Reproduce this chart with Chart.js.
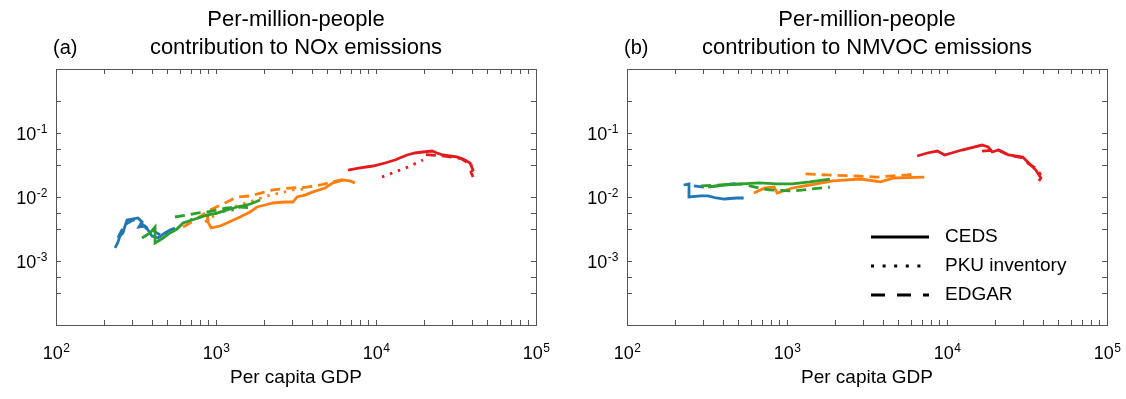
<!DOCTYPE html>
<html>
<head>
<meta charset="utf-8">
<script src="https://cdn.jsdelivr.net/npm/chart.js@4.4.1/dist/chart.umd.min.js"></script>
<style>
  html, body { margin: 0; padding: 0; background: #fff; }
  #wrap { position: relative; width: 1126px; height: 399px; }
  .panel { position: absolute; top: 0; width: 563px; height: 399px; }
</style>
</head>
<body>
<div id="wrap">
  <div class="panel" style="left:0"><canvas id="chartA" width="563" height="399"></canvas></div>
  <div class="panel" style="left:563px"><canvas id="chartB" width="563" height="399"></canvas></div>
</div>
<script>
// axis ticks (log scales)
const xTickValues = [100, 200, 300, 400, 500, 600, 700, 800, 900,
  1000, 2000, 3000, 4000, 5000, 6000, 7000, 8000, 9000,
  10000, 20000, 30000, 40000, 50000, 60000, 70000, 80000, 90000, 100000];
const xMajorTicks = [100, 1000, 10000, 100000];
const xMajorExps = ['2', '3', '4', '5'];          // labels 10^2 .. 10^5
const yTickValues = [1, 0.316, 0.1, 0.0562, 0.0316, 0.01, 0.00562, 0.00316, 0.001, 0.000562, 0.000316, 0.0001];
const yMajorTicks = [0.1, 0.01, 0.001];
const yMajorExps = ['-1', '-2', '-3'];            // labels 10^-1 .. 10^-3

const sourceNames = ['CEDS', 'PKU inventory', 'EDGAR'];

// (a) NOx  -- [per capita GDP, per-million-people contribution]
const noxBlueCeds = [[234,0.0016],[244,0.00198],[251,0.00246],[262,0.00274],[270,0.00352],[278,0.00437],[299,0.00453],[325,0.0047],[345,0.00407],[330,0.0034],[360,0.00352],[376,0.00305],[398,0.00246],[434,0.00229],[480,0.00274],[516,0.00305],[554,0.00328]];
const noxBlueEdgar = [[244,0.00229],[258,0.00305],[274,0.00379],[303,0.00437],[335,0.00407],[365,0.00328],[387,0.00352],[416,0.00284],[460,0.00246],[501,0.00284]];
const noxGreenCeds = [[345,0.00229],[387,0.00274],[416,0.0034],[416,0.00191],[467,0.00229],[516,0.00274],[570,0.00316],[622,0.00393],[740,0.00453],[879,0.00523],[1015,0.00562],[1171,0.00627],[1352,0.00698],[1563,0.0075],[1703,0.00806],[1884,0.00898]];
const noxGreenPku = [[688,0.00437],[794,0.00487],[958,0.00542],[1138,0.00604],[1413,0.0065]];
const noxGreenEdgar = [[554,0.00487],[659,0.00523],[760,0.00562],[879,0.00583],[1015,0.00627],[1171,0.00673],[1413,0.00698],[1703,0.00673]];
const noxOrangeCeds = [[879,0.00523],[891,0.00407],[931,0.00328],[1059,0.00352],[1171,0.00393],[1413,0.00487],[1631,0.00583],[1803,0.00698],[2024,0.0075],[2270,0.00806],[2698,0.00835],[3027,0.00835],[3206,0.01],[3597,0.0107],[4037,0.012],[4799,0.0138],[5385,0.0166],[6218,0.0184],[6879,0.0178],[7390,0.0166]];
const noxOrangePku = [[853,0.00407],[1059,0.00583],[1413,0.0075],[1754,0.00898],[2084,0.0104],[2512,0.01155],[3027,0.0129],[3597,0.0133]];
const noxOrangeEdgar = [[622,0.0034],[740,0.00437],[917,0.00627],[1138,0.00806],[1352,0.01],[1631,0.0104],[2270,0.0129],[2901,0.0138],[3707,0.0143],[4467,0.0154],[5957,0.0184],[6594,0.0191]];
const noxRedCeds = [[6683,0.0264],[7943,0.0284],[9572,0.0305],[11380,0.034],[13140,0.0379],[15630,0.0453],[17520,0.0487],[19660,0.0505],[22390,0.0523],[24050,0.0487],[26220,0.0453],[29000,0.0437],[32060,0.0422],[35970,0.0379],[38680,0.034],[40370,0.0264],[39230,0.0246],[40370,0.0205]];
const noxRedPku = [[10900,0.0205],[13140,0.0246],[15850,0.0294],[19660,0.0379]];
const noxRedEdgar = [[20500,0.046],[26000,0.044],[34000,0.040],[40000,0.031]];

// (b) NMVOC
const vocBlueCeds = [[226,0.0154],[244,0.016],[244,0.012],[244,0.01],[290,0.0104],[321,0.0104],[361,0.00965],[406,0.0093],[484,0.00965],[536,0.00965]];
const vocBlueEdgar = [[262,0.0149],[303,0.0143],[372,0.0149],[450,0.016],[521,0.0166]];
const vocGreenCeds = [[321,0.0143],[361,0.0149],[406,0.0154],[521,0.016],[667,0.0166],[868,0.016],[1080,0.016],[1385,0.0172],[1854,0.0191]];
const vocGreenEdgar = [[290,0.0149],[389,0.0154],[521,0.016],[667,0.0138],[773,0.0129],[1080,0.0124],[1604,0.0138],[1854,0.0143]];
const vocOrangeCeds = [[620,0.01155],[728,0.01383],[830,0.0143],[868,0.01155],[1080,0.01383],[1385,0.0154],[1937,0.0178],[2874,0.0191],[3846,0.0172],[4655,0.0198],[7211,0.0205]];
const vocOrangeEdgar = [[1306,0.0229],[1750,0.0221],[2710,0.0213],[3631,0.0205],[5626,0.0221],[6412,0.0229]];
const vocRedCeds = [[6511,0.0437],[7534,0.0487],[8713,0.0523],[9660,0.0453],[12380,0.0542],[16560,0.0649],[18080,0.0604],[19170,0.0505],[20940,0.0542],[24220,0.0453],[29720,0.0422],[32430,0.034],[35900,0.0264],[38620,0.0198],[37510,0.0178]];
const vocRedEdgar = [[16560,0.052],[20940,0.0542],[24220,0.0453],[29720,0.0407],[32430,0.0328],[35900,0.0284],[38620,0.0221]];

const FONT = '"Liberation Sans", Arial, Helvetica, sans-serif';
Chart.defaults.font.family = FONT;
Chart.defaults.color = '#000';

const colors = { blue: '#1f77b4', orange: '#ff7f0e', green: '#2ca02c', red: '#e41a1c' };
const dashes = { CEDS: [], PKU: [2.5, 6], EDGAR: [10, 6] };

function series(points, color, src) {
  return {
    data: points.map(p => ({ x: p[0], y: p[1] })),
    showLine: true,
    borderColor: color,
    borderWidth: 2.8,
    borderDash: dashes[src],
    pointRadius: 0,
    tension: 0,
    fill: false
  };
}

// ticks point inward: negative tick length
const tickGrid = { display: true, drawOnChartArea: false, drawTicks: true, tickLength: -5, color: '#555' };
const axisBorder = { display: true, color: '#555', width: 1 };

// fixed axis sizes, and no label overflow padding
function fitX(h) {
  return s => { s.height = h; s.paddingLeft = 0; s.paddingRight = 0; };
}
function fitY(w) {
  return s => { s.width = w; s.paddingTop = 0; s.paddingBottom = 0; };
}

function logScales(leftWidth) {
  return {
    x: {
      type: 'logarithmic', position: 'bottom', min: 100, max: 100000,
      grid: tickGrid, border: axisBorder,
      afterBuildTicks: s => { s.ticks = xTickValues.map(v => ({ value: v })); },
      afterFit: fitX(74),
      ticks: { display: false, autoSkip: false },
      title: { display: true, text: 'Per capita GDP', font: { size: 19 }, padding: { top: 0, bottom: 10 } }
    },
    xTop: {
      type: 'logarithmic', position: 'top', min: 100, max: 100000,
      grid: tickGrid, border: axisBorder,
      afterBuildTicks: s => { s.ticks = xTickValues.map(v => ({ value: v })); },
      afterFit: fitX(0),
      ticks: { display: false, autoSkip: false }
    },
    y: {
      type: 'logarithmic', position: 'left', min: 0.0001, max: 1,
      grid: tickGrid, border: axisBorder,
      afterBuildTicks: s => { s.ticks = yTickValues.map(v => ({ value: v })); },
      afterFit: fitY(leftWidth),
      ticks: { display: false, autoSkip: false }
    },
    yRight: {
      type: 'logarithmic', position: 'right', min: 0.0001, max: 1,
      grid: tickGrid, border: axisBorder,
      afterBuildTicks: s => { s.ticks = yTickValues.map(v => ({ value: v })); },
      afterFit: fitY(0),
      ticks: { display: false, autoSkip: false }
    }
  };
}

// "10" with a raised exponent at every major tick
const powerLabels = {
  id: 'powerLabels',
  afterDraw(chart) {
    const ctx = chart.ctx;
    const xs = chart.scales.x, ys = chart.scales.y;
    const big = '18px ' + FONT, small = '12px ' + FONT;
    ctx.save();
    ctx.fillStyle = '#000';
    ctx.textAlign = 'left';
    ctx.textBaseline = 'alphabetic';
    function draw(exp, x, y, align) {
      ctx.font = big;
      const wb = ctx.measureText('10').width;
      ctx.font = small;
      const we = ctx.measureText(exp).width;
      const left = align === 'right' ? x - wb - we : x - (wb + we) / 2;
      ctx.font = big;
      ctx.fillText('10', left, y);
      ctx.font = small;
      ctx.fillText(exp, left + wb + 0.5, y - 7);
    }
    xMajorTicks.forEach((v, i) => draw(xMajorExps[i], xs.getPixelForValue(v), xs.top + 34, 'center'));
    yMajorTicks.forEach((v, i) => draw(yMajorExps[i], ys.right - 9, ys.getPixelForValue(v) + 6.5, 'right'));
    ctx.restore();
  }
};

const panelLabel = {
  id: 'panelLabel',
  afterDraw(chart, args, opts) {
    const ctx = chart.ctx;
    ctx.save();
    ctx.font = '20px ' + FONT;
    ctx.fillStyle = '#000';
    ctx.textBaseline = 'middle';
    ctx.fillText(opts.text, chart.chartArea.left + opts.dx, 48);
    ctx.restore();
  }
};

const lineKey = {
  id: 'lineKey',
  afterDraw(chart, args, opts) {
    if (!opts.show) return;
    const { ctx, chartArea } = chart;
    const styles = [[], [3, 8.6], [14, 12]];
    ctx.save();
    ctx.font = '19px ' + FONT;
    ctx.fillStyle = '#000';
    ctx.strokeStyle = '#000';
    ctx.lineWidth = 3;
    ctx.textBaseline = 'middle';
    sourceNames.forEach((name, i) => {
      const y = chartArea.top + opts.y + i * opts.rowGap;
      const x0 = chartArea.left + opts.x;
      ctx.setLineDash(styles[i]);
      ctx.beginPath();
      ctx.moveTo(x0, y);
      ctx.lineTo(x0 + opts.lineLen, y);
      ctx.stroke();
      ctx.fillText(name, x0 + opts.lineLen + opts.textGap, y);
    });
    ctx.restore();
  }
};

function makeChart(id, datasets, title, label, leftWidth, rightPad, showKey) {
  return new Chart(document.querySelector(id), {
    type: 'scatter',
    data: { datasets: datasets },
    options: {
      responsive: false,
      animation: false,
      devicePixelRatio: 1,
      events: [],
      layout: { padding: { top: 0, left: 0, right: rightPad, bottom: 0 } },
      scales: logScales(leftWidth),
      plugins: {
        legend: { display: false },
        tooltip: { enabled: false },
        title: {
          display: true, text: title, fullSize: false, color: '#000',
          font: { size: 22, weight: 'normal', lineHeight: 28 / 22 },
          padding: { top: 6, bottom: 7 }
        },
        panelLabel: { text: label, dx: -3 },
        lineKey: { show: showKey, x: 244, y: 168, rowGap: 29, lineLen: 58, textGap: 16 }
      }
    },
    plugins: [powerLabels, panelLabel, lineKey]
  });
}

const noxChart = makeChart('#chartA', [
  series(noxGreenCeds, colors.green, 'CEDS'),
  series(noxGreenPku, colors.green, 'PKU'),
  series(noxGreenEdgar, colors.green, 'EDGAR'),
  series(noxBlueCeds, colors.blue, 'CEDS'),
  series(noxBlueEdgar, colors.blue, 'EDGAR'),
  series(noxOrangeCeds, colors.orange, 'CEDS'),
  series(noxOrangePku, colors.orange, 'PKU'),
  series(noxOrangeEdgar, colors.orange, 'EDGAR'),
  series(noxRedCeds, colors.red, 'CEDS'),
  series(noxRedPku, colors.red, 'PKU'),
  series(noxRedEdgar, colors.red, 'EDGAR')
], ['Per-million-people', 'contribution to NOx emissions'], '(a)', 56, 27, false);

const vocChart = makeChart('#chartB', [
  series(vocGreenCeds, colors.green, 'CEDS'),
  series(vocGreenEdgar, colors.green, 'EDGAR'),
  series(vocBlueCeds, colors.blue, 'CEDS'),
  series(vocBlueEdgar, colors.blue, 'EDGAR'),
  series(vocOrangeCeds, colors.orange, 'CEDS'),
  series(vocOrangeEdgar, colors.orange, 'EDGAR'),
  series(vocRedCeds, colors.red, 'CEDS'),
  series(vocRedEdgar, colors.red, 'EDGAR')
], ['Per-million-people', 'contribution to NMVOC emissions'], '(b)', 64, 19, true);
</script>
</body>
</html>
